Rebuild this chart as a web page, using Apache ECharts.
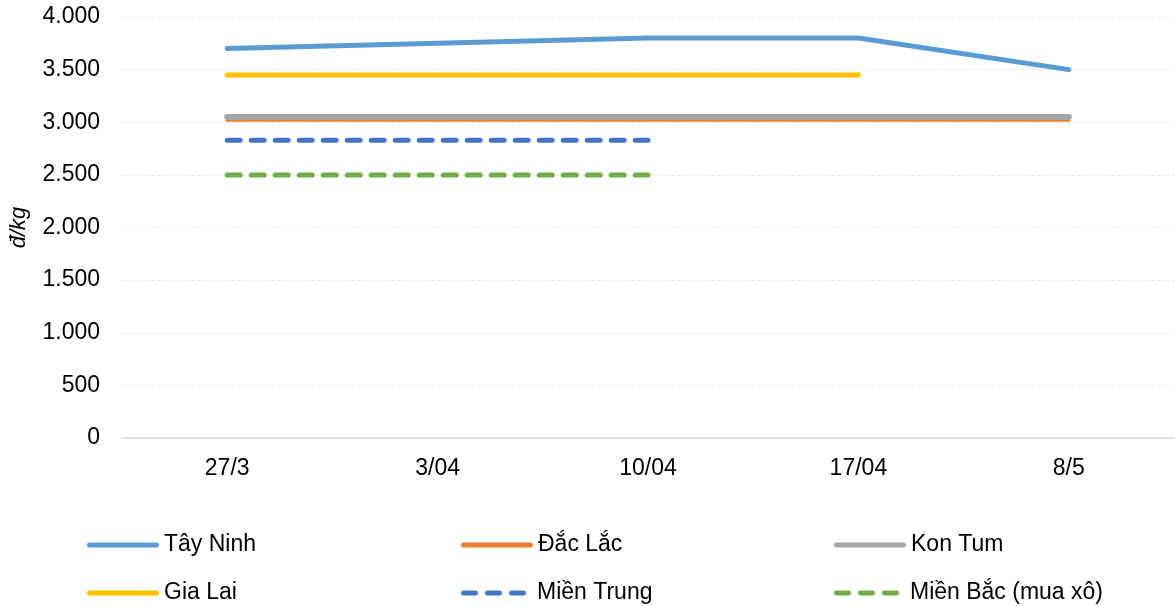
<!DOCTYPE html>
<html>
<head>
<meta charset="utf-8">
<script src="https://cdn.jsdelivr.net/npm/echarts@6/dist/echarts.min.js"></script>
<style>html,body{margin:0;padding:0;background:#fff;}#c{width:1175px;height:606px;}</style>
</head>
<body>
<div id="c"></div>
<script>
var categories = ['27/3', '3/04', '10/04', '17/04', '8/5'];
var tayNinh = [3700, 3750, 3800, 3800, 3500];
var dacLac = [3020, 3020, 3020, 3020, 3020];
var konTum = [3050, 3050, 3050, 3050, 3050];
var giaLai = [3450, 3450, 3450, 3450, null];
var mienTrung = [2830, 2830, 2830, null, null];
var mienBac = [2500, 2500, 2500, null, null];
var yTicks = [0, 500, 1000, 1500, 2000, 2500, 3000, 3500, 4000];

var font = 'Liberation Sans, Arial, sans-serif';
function fmt(v){ return String(v).replace(/\B(?=(\d{3})+(?!\d))/g, '.'); }

function mk(name, data, color, width, dashed){
  return {
    name: name, type: 'line', data: data, symbol: 'none', showSymbol: false,
    connectNulls: false, animation: false,
    lineStyle: { color: color, width: width, cap: 'round', join: 'round',
      type: dashed ? [13, 11] : 'solid' },
    itemStyle: { color: color }
  };
}

var series = [
  mk('Tây Ninh', tayNinh, '#5b9bd5', 5, false),
  mk('Đắc Lắc', dacLac, '#ed7d31', 3, false),
  mk('Kon Tum', konTum, '#a5a5a5', 6, false),
  mk('Gia Lai', giaLai, '#ffc000', 5, false),
  mk('Miền Trung', mienTrung, '#4472c4', 5, true),
  mk('Miền Bắc (mua xô)', mienBac, '#70ad47', 5, true)
];

var solidIcon = 'path://M2.5,0 L69.5,0 A2.5,2.5 0 0 1 69.5,5 L2.5,5 A2.5,2.5 0 0 1 2.5,0 Z';
var dashIcon = 'path://M2.5,0 L14.5,0 A2.5,2.5 0 0 1 14.5,5 L2.5,5 A2.5,2.5 0 0 1 2.5,0 Z ' +
  'M26.5,0 L38.5,0 A2.5,2.5 0 0 1 38.5,5 L26.5,5 A2.5,2.5 0 0 1 26.5,0 Z ' +
  'M50.5,0 L62.5,0 A2.5,2.5 0 0 1 62.5,5 L50.5,5 A2.5,2.5 0 0 1 50.5,0 Z';
var legendPos = [[87, 532], [461, 532], [834, 532], [87, 580], [461, 580], [834, 580]];
var legends = series.map(function(s, i){
  var dashed = i >= 4;
  return {
    data: [{ name: s.name, icon: dashed ? dashIcon : solidIcon }],
    left: legendPos[i][0], top: legendPos[i][1],
    itemWidth: dashed ? 65 : 72, itemHeight: 5, itemGap: 0, padding: 0,
    itemStyle: { color: s.lineStyle.color, borderWidth: 0 },
    lineStyle: { width: 0 },
    textStyle: { fontFamily: font, fontSize: 23, color: '#000', lineHeight: 26,
      padding: [0, 0, 0, dashed ? 6 : 0] },
    selectedMode: false
  };
});

var chart = echarts.init(document.getElementById('c'), null, {renderer: 'canvas'});
chart.setOption({
  animation: false,
  backgroundColor: '#fff',
  grid: { left: 121, top: 17, width: 1053, height: 421, containLabel: false },
  legend: legends,
  xAxis: {
    type: 'category', data: categories, boundaryGap: true,
    axisLine: { lineStyle: { color: '#d9d9d9', width: 1.5 } },
    axisTick: { show: false },
    axisLabel: { fontFamily: font, fontSize: 23, color: '#000', margin: 19 }
  },
  yAxis: {
    type: 'value', min: 0, max: 4000, interval: 500,
    name: 'đ/kg', nameLocation: 'middle', nameGap: 92, nameRotate: 90,
    nameTextStyle: { fontFamily: font, fontSize: 22, fontStyle: 'italic', color: '#000' },
    axisLine: { show: false }, axisTick: { show: false },
    axisLabel: { fontFamily: font, fontSize: 23, color: '#000', margin: 22,
      formatter: function(v){ return yTicks.indexOf(v) >= 0 ? fmt(v) : ''; } },
    splitLine: { lineStyle: { color: '#e6e6e6', width: 1, type: [3, 2] } }
  },
  series: series
});
</script>
</body>
</html>
